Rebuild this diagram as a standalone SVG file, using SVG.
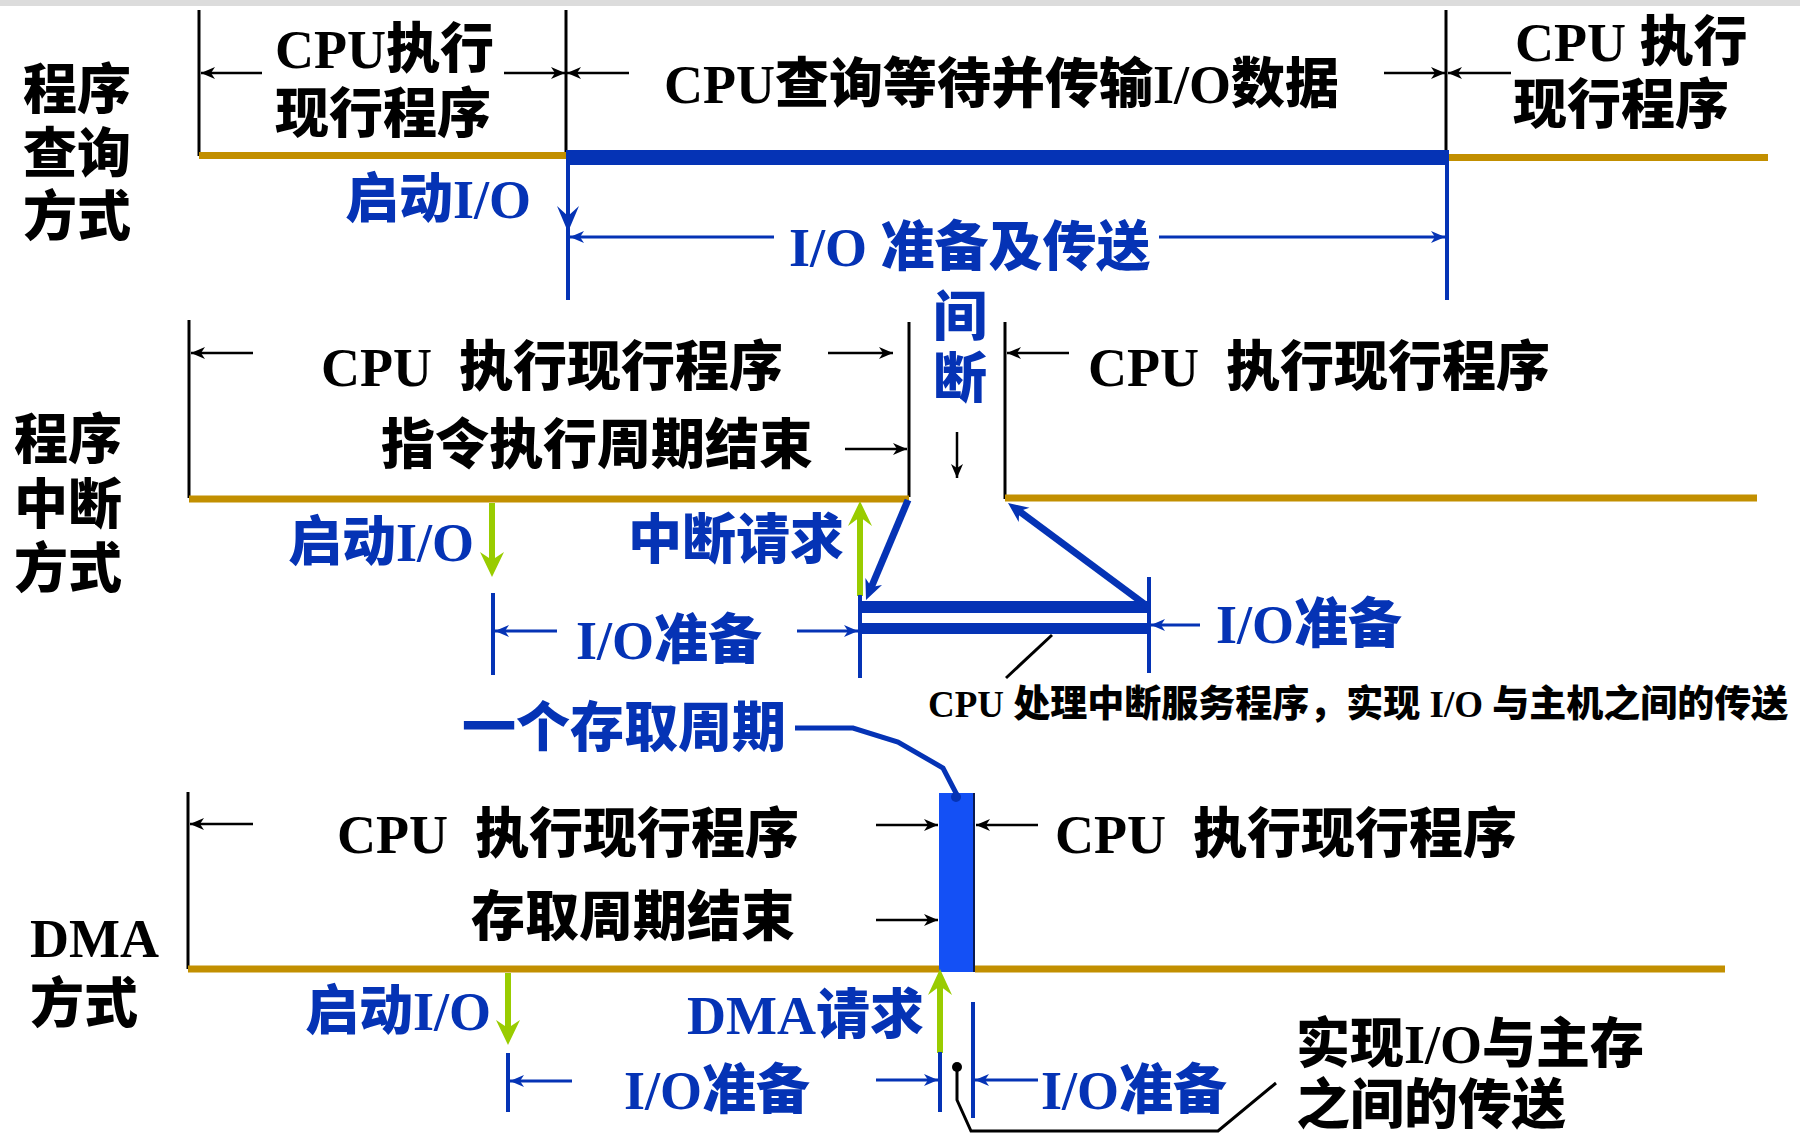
<svg xmlns="http://www.w3.org/2000/svg" width="1800" height="1133" viewBox="0 0 1800 1133">
<style>
.t{font-family:'Liberation Serif','Noto Sans CJK SC',serif;font-weight:900;font-size:54px;fill:#000;white-space:pre}
.s{font-size:37px}
.b{fill:#0533B5}
.k{stroke:#000;stroke-width:3;fill:none}
.or{stroke:#C28F00;stroke-width:7;fill:none}
.bv{stroke:#0533B5;stroke-width:4;fill:none}
.ak{stroke:#000;stroke-width:2.5;fill:none;marker-end:url(#mk)}
.ab{stroke:#0533B5;stroke-width:3;fill:none;marker-end:url(#mb)}
.g{stroke:#99CC00;stroke-width:6;fill:none}
.gh{fill:#99CC00}
.bf{fill:#0533B5}
</style>
<defs>
<marker id="mk" viewBox="0 0 14 12" refX="14" refY="6" markerWidth="14" markerHeight="12" markerUnits="userSpaceOnUse" orient="auto"><path d="M14,6 L0,0 L4,6 L0,12 z" fill="#000"/></marker>
<marker id="mb" viewBox="0 0 14 12" refX="14" refY="6" markerWidth="14" markerHeight="12" markerUnits="userSpaceOnUse" orient="auto"><path d="M14,6 L0,0 L4,6 L0,12 z" fill="#0533B5"/></marker>
</defs>
<rect x="0" y="0" width="1800" height="1133" fill="#fff"/>
<rect x="0" y="0" width="1800" height="6" fill="#dcdcdc"/>

<!-- Section 1: 程序查询方式 -->
<g id="sec1-label">
<text class="t" x="23" y="109">程序</text>
<text class="t" x="23" y="173">查询</text>
<text class="t" x="23" y="236">方式</text>
</g>
<g id="sec1-cpu-run">
<text class="t" x="275" y="68">CPU执行</text>
<text class="t" x="275" y="133">现行程序</text>
</g>
<g id="sec1-poll">
<text class="t" x="664" y="103">CPU查询等待并传输I/O数据</text>
</g>
<g id="sec1-cpu-run2">
<text class="t" x="1515" y="61">CPU 执行</text>
<text class="t" x="1513" y="124">现行程序</text>
</g>
<g id="sec1-start">
<text class="t b" x="345" y="218">启动I/O</text>
</g>
<g id="sec1-io">
<text class="t b" x="789" y="266">I/O 准备及传送</text>
</g>

<!-- Section 2: 程序中断方式 -->
<g id="sec2-label">
<text class="t" x="14" y="459">程序</text>
<text class="t" x="14" y="524">中断</text>
<text class="t" x="14" y="588">方式</text>
</g>
<g id="sec2-cpu-run">
<text class="t" x="321" y="386">CPU  执行现行程序</text>
<text class="t" x="381" y="464">指令执行周期结束</text>
</g>
<g id="sec2-gap">
<text class="t b" x="933" y="336">间</text>
<text class="t b" x="933" y="398">断</text>
</g>
<g id="sec2-cpu-run2">
<text class="t" x="1088" y="386">CPU  执行现行程序</text>
</g>
<g id="sec2-start">
<text class="t b" x="288" y="561">启动I/O</text>
</g>
<g id="sec2-req">
<text class="t b" x="628" y="559">中断请求</text>
</g>
<g id="sec2-prep1">
<text class="t b" x="576" y="659">I/O准备</text>
</g>
<g id="sec2-prep2">
<text class="t b" x="1216" y="643">I/O准备</text>
</g>
<g id="sec2-note">
<text class="t s" x="928" y="717">CPU 处理中断服务程序，实现 I/O 与主机之间的传送</text>
</g>

<!-- Section 3: DMA方式 -->
<g id="sec3-cycle">
<text class="t b" x="462" y="747">一个存取周期</text>
</g>
<g id="sec3-label">
<text class="t" x="30" y="957">DMA</text>
<text class="t" x="30" y="1023">方式</text>
</g>
<g id="sec3-cpu-run">
<text class="t" x="337" y="853">CPU  执行现行程序</text>
<text class="t" x="471" y="936">存取周期结束</text>
</g>
<g id="sec3-cpu-run2">
<text class="t" x="1055" y="853">CPU  执行现行程序</text>
</g>
<g id="sec3-bar">
<rect x="939" y="793" width="34" height="179" fill="#1450F5"/>
<line x1="974" y1="793" x2="974" y2="972" stroke="#0a1a50" stroke-width="2"/>
</g>
<g id="sec3-start">
<text class="t b" x="305" y="1030">启动I/O</text>
</g>
<g id="sec3-req">
<text class="t b" x="687" y="1034">DMA请求</text>
</g>
<g id="sec3-prep1">
<text class="t b" x="624" y="1109">I/O准备</text>
</g>
<g id="sec3-prep2">
<text class="t b" x="1041" y="1109">I/O准备</text>
</g>
<g id="sec3-note">
<text class="t" x="1296" y="1063">实现I/O与主存</text>
<text class="t" x="1296" y="1124">之间的传送</text>
</g>

<g id="connectors">
<!-- section 1 -->
<line class="k" x1="199" y1="10" x2="199" y2="156"/>
<line class="k" x1="566" y1="10" x2="566" y2="152"/>
<line class="k" x1="1446" y1="10" x2="1446" y2="152"/>
<line class="or" x1="199" y1="155.5" x2="566" y2="155.5"/>
<line class="or" x1="1448" y1="157.5" x2="1768" y2="157.5"/>
<rect x="566" y="150" width="882" height="15" class="bf"/>
<line class="bv" x1="568" y1="150" x2="568" y2="300"/>
<line class="bv" x1="1447" y1="150" x2="1447" y2="300"/>
<polygon class="bf" points="568,232 557,206 568,216 579,206"/>
<line class="ak" x1="262" y1="73" x2="201" y2="73"/>
<line class="ak" x1="504" y1="73" x2="565" y2="73"/>
<line class="ak" x1="629" y1="73" x2="567" y2="73"/>
<line class="ak" x1="1384" y1="73" x2="1445" y2="73"/>
<line class="ak" x1="1511" y1="73" x2="1448" y2="73"/>
<line class="ab" x1="774" y1="237" x2="570" y2="237"/>
<line class="ab" x1="1159" y1="237" x2="1445" y2="237"/>

<!-- section 2 -->
<line class="k" x1="189" y1="320" x2="189" y2="498"/>
<line class="k" x1="909" y1="322" x2="909" y2="497"/>
<line class="k" x1="1005" y1="322" x2="1005" y2="499"/>
<line class="or" x1="189" y1="499" x2="909" y2="499"/>
<line class="or" x1="1005" y1="498" x2="1757" y2="498"/>
<line class="ak" x1="253" y1="353" x2="191" y2="353"/>
<line class="ak" x1="828" y1="353" x2="893" y2="353"/>
<line class="ak" x1="845" y1="449" x2="907" y2="449"/>
<line class="ak" x1="1069" y1="353" x2="1007" y2="353"/>
<line class="ak" x1="957" y1="432" x2="957" y2="478"/>
<line class="g" x1="492" y1="503" x2="492" y2="560"/>
<polygon class="gh" points="492,577 480,552 492,560 504,552"/>
<line class="g" x1="860" y1="516" x2="860" y2="596"/>
<polygon class="gh" points="860,501 848,526 860,517 872,526"/>
<line class="bv" x1="493" y1="593" x2="493" y2="675"/>
<line class="bv" x1="860" y1="595" x2="860" y2="678"/>
<line class="bv" x1="1149" y1="577" x2="1149" y2="673"/>
<rect x="860" y="601" width="289" height="12" class="bf"/>
<rect x="860" y="623" width="289" height="11" class="bf"/>
<line stroke="#0533B5" stroke-width="7" x1="908" y1="500" x2="871.4" y2="587"/>
<polygon class="bf" points="866,600 882,585 871.4,587 865.4,578"/>
<line stroke="#0533B5" stroke-width="7" x1="1147" y1="606" x2="1019" y2="511"/>
<polygon class="bf" points="1008,503 1029.5,507.7 1019.2,511.3 1018.7,522.1"/>
<line class="ab" x1="557" y1="631" x2="495" y2="631"/>
<line class="ab" x1="797" y1="631" x2="858" y2="631"/>
<line class="ab" x1="1200" y1="625" x2="1151" y2="625"/>
<line class="k" x1="1052" y1="635" x2="1006" y2="678"/>

<!-- section 3 -->
<path d="M795,728 L853,728 L898,742 L943,768 L957,795" stroke="#0533B5" stroke-width="5" fill="none"/>
<circle cx="956" cy="797" r="5" class="bf"/>
<line class="k" x1="188" y1="792" x2="188" y2="969"/>
<line class="or" x1="188" y1="969" x2="939" y2="969"/>
<line class="or" x1="975" y1="969" x2="1725" y2="969"/>
<line class="ak" x1="253" y1="824" x2="190" y2="824"/>
<line class="ak" x1="876" y1="825" x2="938" y2="825"/>
<line class="ak" x1="876" y1="920" x2="938" y2="920"/>
<line class="ak" x1="1038" y1="825" x2="976" y2="825"/>
<line class="g" x1="508" y1="973" x2="508" y2="1028"/>
<polygon class="gh" points="508,1045 496,1020 508,1028 520,1020"/>
<line class="g" x1="940" y1="986" x2="940" y2="1053"/>
<polygon class="gh" points="940,969 928,995 940,986 952,995"/>
<line class="bv" x1="508" y1="1053" x2="508" y2="1112"/>
<line class="bv" x1="940" y1="1052" x2="940" y2="1112"/>
<line class="bv" x1="973" y1="1002" x2="973" y2="1118"/>
<line class="ab" x1="572" y1="1081" x2="510" y2="1081"/>
<line class="ab" x1="876" y1="1080" x2="938" y2="1080"/>
<line class="ab" x1="1038" y1="1080" x2="975" y2="1080"/>
<circle cx="957" cy="1067" r="5" fill="#000"/>
<path d="M957,1067 L957,1100 L971,1131 L1218,1131 L1276,1083" class="k"/>
</g>
</svg>
